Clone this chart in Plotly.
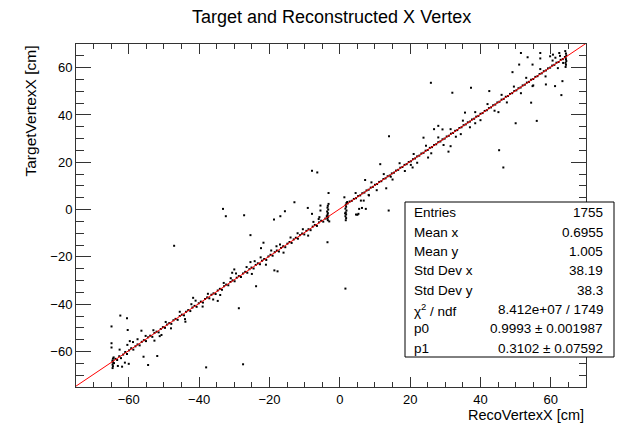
import plotly.graph_objects as go

# ---------------- data ----------------
ridge_left_x = [-64.6,-64.2,-63.8,-63.3,-62.7,-62.2,-61.6,-61.0,-60.5,-59.9,-59.3,-58.7,-58.1,-57.5,-56.9,-56.3,
                -55.7,-55.1,-54.5,-53.9,-53.3,-52.7,-52.1,-51.5,-50.9,-50.3,-49.7,-49.1,-48.5,-47.9,-47.3,-46.7,
                -46.1,-45.5,-44.9,-44.3,-43.7,-43.1,-42.5,-41.9,-41.3,-40.7,-40.1,-39.5,-38.9,-38.3,-37.7,-37.1,
                -36.5,-35.9,-35.3,-34.7,-34.1,-33.5,-32.9,-32.3,-31.7,-31.1,-30.5,-29.9,-29.3,-28.7,-28.1,-27.5,
                -26.9,-26.3,-25.7,-25.1,-24.5,-23.9,-23.3,-22.7,-22.1,-21.5,-20.9,-20.3,-19.7,-19.1,-18.5,-17.9,
                -17.3,-16.7,-16.1,-15.5,-14.9,-14.3,-13.7,-13.1,-12.5,-11.9,-11.3,-10.7,-10.1,-9.5,-8.9,-8.3,
                -7.7,-7.1,-6.5,-5.9,-5.3,-4.7,-4.1,-3.5]
ridge_left_y = [-64.2,-64.9,-63.1,-63.6,-62.0,-62.8,-61.3,-60.2,-61.0,-59.5,-58.6,-59.2,-57.8,-57.0,-57.4,-55.9,
                -55.2,-55.6,-54.0,-53.3,-53.8,-52.2,-51.6,-51.9,-50.5,-49.7,-50.0,-48.6,-48.0,-48.3,-46.8,-46.2,
                -46.6,-45.0,-44.4,-44.7,-43.2,-42.5,-42.9,-41.4,-40.7,-41.1,-39.6,-38.9,-39.3,-37.8,-37.1,-37.5,
                -36.0,-35.4,-35.7,-34.2,-33.5,-33.9,-32.4,-31.7,-32.0,-30.6,-29.9,-30.3,-28.8,-28.1,-28.5,-27.0,
                -26.3,-26.7,-25.2,-24.5,-24.9,-23.4,-22.7,-23.1,-21.6,-20.9,-21.3,-19.8,-19.1,-19.5,-18.0,-17.3,
                -17.7,-16.2,-15.5,-15.9,-14.4,-13.7,-14.1,-12.6,-11.9,-12.3,-10.8,-10.1,-10.5,-9.0,-8.3,-8.7,
                -7.2,-6.5,-6.9,-5.4,-4.7,-5.1,-3.8,-3.0]

ridge_right_x = [2.2,2.8,3.4,4.0,4.6,5.2,5.8,6.4,7.0,7.6,8.2,8.8,9.4,10.0,10.6,11.2,11.8,12.4,13.0,13.6,14.2,14.8,
                 15.4,16.0,16.6,17.2,17.8,18.4,19.0,19.6,20.2,20.8,21.4,22.0,22.6,23.2,23.8,24.4,25.0,25.6,26.2,
                 26.8,27.4,28.0,28.6,29.2,29.8,30.4,31.0,31.6,32.2,32.8,33.4,34.0,34.6,35.2,35.8,36.4,37.0,37.6,
                 38.2,38.8,39.4,40.0,40.6,41.2,41.8,42.4,43.0,43.6,44.2,44.8,45.4,46.0,46.6,47.2,47.8,48.4,49.0,
                 49.6,50.2,50.8,51.4,52.0,52.6,53.2,53.8,54.4,55.0,55.6,56.2,56.8,57.4,58.0,58.6,59.2,59.8,60.4,
                 61.0,61.6,62.2,62.8,63.4,64.0]
ridge_right_y = [2.6,3.4,3.7,4.5,4.8,5.7,6.0,6.9,7.2,8.1,8.4,9.3,9.6,10.5,10.8,11.7,12.0,12.9,13.2,14.1,14.4,15.3,
                 15.6,16.5,16.8,17.7,18.0,18.9,19.2,20.1,20.4,21.3,21.6,22.5,22.8,23.7,24.0,24.9,25.2,26.1,26.4,
                 27.3,27.6,28.5,28.8,29.7,30.0,30.9,31.2,32.1,32.4,33.3,33.6,34.5,34.8,35.7,36.0,36.9,37.2,38.1,
                 38.4,39.3,39.6,40.5,40.8,41.7,42.0,42.9,43.2,44.1,44.4,45.3,45.6,46.5,46.8,47.7,48.0,48.9,49.2,
                 50.1,50.4,51.3,51.6,52.5,52.8,53.7,54.0,54.9,55.2,56.1,56.4,57.3,57.6,58.5,58.8,59.7,60.0,60.9,
                 61.2,62.1,62.4,63.3,63.6,64.5]

near_x = [-60.4,-58.8,-57.5,-55.2,-53.0,-51.2,-49.5,-48.0,-45.5,-44.0,-42.2,-41.0,-39.0,-37.5,-36.0,-34.0,-33.0,
          -31.0,-29.5,-26.5,-25.0,-24.2,-22.5,-21.0,-19.5,-18.0,-17.0,-16.0,-14.0,-12.0,-10.5,-9.0,-7.5,-6.0,
          4.5,6.0,9.0,10.5,12.5,15.0,17.0,18.5,21.0,22.0,24.5,26.0,28.0,29.5,31.5,33.0,35.0,37.0,38.5,40.0,
          42.0,44.0,46.0,47.5,49.5,51.5,53.0,55.0,57.0,58.5,60.5,62.0,63.5]
near_y = [-57.2,-56.0,-54.8,-53.4,-51.0,-53.5,-47.5,-50.2,-43.2,-46.3,-40.0,-38.5,-41.0,-35.6,-38.0,-36.1,-31.0,
          -29.0,-27.0,-24.3,-27.2,-21.8,-20.2,-23.3,-17.3,-15.5,-14.8,-18.2,-11.8,-10.0,-8.3,-11.0,-5.2,-4.0,
          7.0,3.8,11.5,8.2,15.0,12.7,19.6,16.3,23.5,19.8,27.0,23.8,30.5,27.3,34.0,30.8,37.6,34.8,41.2,37.8,
          44.6,41.8,48.5,45.3,52.0,49.2,55.7,52.5,59.4,56.3,63.0,59.8,62.0]

cluster_x = [-3.4,-3.5,-3.3,-3.5,-3.4,-3.6,-3.3,-3.5,-3.4,-3.2,-3.0,-3.7,
             1.7,1.8,1.6,1.8,1.7,1.9,1.6,1.8,1.7,1.9,2.1,1.5,
             -64.6,-64.5,-64.6,-64.4,-64.6,-64.5,-64.3,
             64.2,64.3,64.2,64.4,64.3,64.2,64.4,64.3,64.1]
cluster_y = [-4.5,-3.8,-3.0,-2.2,-1.5,-0.8,0.0,0.8,1.6,2.4,-5.0,-2.8,
             -4.5,-3.6,-2.8,-2.0,-1.2,-0.4,0.4,1.2,2.0,2.8,3.2,-1.6,
             -67.0,-66.2,-65.5,-64.8,-63.8,-63.0,-62.5,
             60.3,61.2,62.0,62.8,63.6,64.4,65.2,66.0,67.0]

outlier_x = [25.9,32.0,37.3,42.5,49.1,51.0,51.5,53.4,54.8,57.0,57.0,54.8,58.6,61.2,63.3,63.0,54.4,56.0,50.0,45.3,
             46.5,30.9,31.5,26.8,28.0,29.2,14.0,11.5,13.9,7.2,5.5,5.0,1.3,8.2,-3.2,59.8,60.6,61.3,62.4,62.6,
             23.8,25.1,20.7,20.2,35.6,38.5,34.4,45.1,
             -7.9,-6.4,-12.9,-9.1,-15.6,-16.9,-18.7,-5.5,-7.9,-5.8,-27.2,-25.4,-21.7,-22.4,-18.6,-17.7,-23.8,
             -3.5,1.6,4.6,6.3,7.4,6.8,8.3,13.2,14.5,-5.5,-25.4,5.3,
             -33.2,-32.4,-47.1,-30.6,-30.0,-28.7,-34.7,-41.7,-43.9,-56.4,-60.3,-60.5,-62.4,-64.9,-64.9,-64.9,
             -62.6,-59.7,-55.8,-51.9,-54.5,-52.7,-50.7,-38.0,-27.5,-63.1,-61.9,-61.1,-60.0]
outlier_y = [53.6,49.4,51.5,50.1,58.1,61.3,66.2,64.4,61.3,66.2,63.9,52.2,52.9,52.2,54.3,48.4,45.2,37.5,36.5,25.1,
             17.8,24.5,26.8,34.0,35.4,33.9,31.0,19.2,-0.4,12.5,0.3,-2.2,5.2,6.2,7.0,64.8,65.5,64.2,66.2,65.0,
             30.4,22.0,17.8,18.9,41.0,36.5,31.9,41.2,
             16.4,15.7,3.1,0.7,-0.7,-2.8,-4.2,1.7,-1.8,-3.2,-2.4,-10.8,-14.0,-16.3,-25.7,-26.1,-32.4,
             -13.8,-33.4,-2.1,0.7,0.3,3.8,6.0,9.0,13.9,-0.4,-22.2,-1.8,
             0.3,-2.8,-15.3,-26.7,-25.3,-41.7,-38.6,-37.3,-47.4,-51.2,-50.9,-45.9,-44.8,-49.4,-56.5,-58.3,
             -59.2,-55.6,-62.2,-61.9,-65.7,-55.4,-53.0,-66.7,-65.4,-66.1,-66.4,-64.7,-65.2]

# fit: f(x) = p0*x + p1
p0 = 0.9993
p1 = 0.3102
x_range = [-75, 70]
y_range = [-75, 70]

stats_labels = ["Entries", "Mean x", "Mean y", "Std Dev x", "Std Dev y", "χ<sup>2</sup> / ndf", "p0", "p1"]
stats_values = ["1755", "0.6955", "1.005", "38.19", "38.3", "8.412e+07 / 1749",
                "0.9993 ± 0.001987", "0.3102 ± 0.07592"]

title = "Target and Reconstructed X Vertex"
x_title = "RecoVertexX [cm]"
y_title = "TargetVertexX [cm]"

# ---------------- figure ----------------
FONT = "Liberation Sans, Arial, Helvetica, sans-serif"
all_x = ridge_left_x + ridge_right_x + near_x + cluster_x + outlier_x
all_y = ridge_left_y + ridge_right_y + near_y + cluster_y + outlier_y

fig = go.Figure()
fig.add_trace(go.Scatter(x=all_x, y=all_y, mode="markers",
                         marker=dict(symbol="square", size=2, color="black", line=dict(width=0)),
                         hoverinfo="skip", showlegend=False))
fit_x = [x_range[0], x_range[1]]
fit_y = [p0 * v + p1 for v in fit_x]
fig.add_trace(go.Scatter(x=fit_x, y=fit_y, mode="lines",
                         line=dict(color="#ff0000", width=1), hoverinfo="skip", showlegend=False))

L, R, T, B = 76, 45, 44, 36
W, H = 631, 423
pw, ph = W - L - R, H - T - B

axis_common = dict(showgrid=False, zeroline=False, showline=True, linecolor="#333", linewidth=1,
                   mirror="allticks", ticks="inside", tickcolor="#333", tickwidth=1,
                   tickfont=dict(family=FONT, size=13, color="black"), tick0=0, dtick=20)

fig.update_xaxes(range=x_range, ticklen=10,
                 minor=dict(ticks="inside", ticklen=5, dtick=5, tick0=0, tickcolor="#333", tickwidth=1),
                 **axis_common)
fig.update_yaxes(range=y_range, ticklen=15,
                 minor=dict(ticks="inside", ticklen=7.5, dtick=5, tick0=0, tickcolor="#333", tickwidth=1),
                 **axis_common)

def px_x(p):
    return (p - L) / pw

def px_y(p):
    return (H - B - p) / ph

box_l, box_r, box_t, box_b = 405, 614, 202, 357
fig.add_shape(type="rect", xref="paper", yref="paper",
              x0=px_x(box_l), x1=px_x(box_r), y0=px_y(box_b), y1=px_y(box_t),
              line=dict(color="black", width=1), fillcolor="white", layer="above")

n = len(stats_labels)
row_h = (box_b - box_t) / n
annotations = []
for i, (lab, val) in enumerate(zip(stats_labels, stats_values)):
    yc = box_t + row_h * (i + 0.5) + 1
    annotations.append(dict(x=px_x(box_l + 7), y=px_y(yc), xref="paper", yref="paper", text=lab,
                            showarrow=False, xanchor="left", yanchor="middle",
                            font=dict(family=FONT, size=13.5, color="black")))
    annotations.append(dict(x=px_x(box_r - 9), y=px_y(yc), xref="paper", yref="paper", text=val,
                            showarrow=False, xanchor="right", yanchor="middle",
                            font=dict(family=FONT, size=13.5, color="black")))

annotations.append(dict(x=0.5, y=px_y(17), xref="paper", yref="paper", text=title, showarrow=False,
                        xanchor="center", yanchor="middle", font=dict(family=FONT, size=18, color="black")))
annotations.append(dict(x=1.0, y=px_y(415), xref="paper", yref="paper", text=x_title, showarrow=False,
                        xanchor="right", yanchor="middle", font=dict(family=FONT, size=14.5, color="black")))
annotations.append(dict(x=px_x(30), y=1.0, xref="paper", yref="paper", text=y_title, showarrow=False,
                        textangle=-90, xanchor="center", yanchor="top",
                        font=dict(family=FONT, size=15.5, color="black")))

fig.update_layout(width=W, height=H, margin=dict(l=L, r=R, t=T, b=B, pad=0),
                  paper_bgcolor="white", plot_bgcolor="white", annotations=annotations,
                  font=dict(family=FONT))

fig.write_html("out.html")
